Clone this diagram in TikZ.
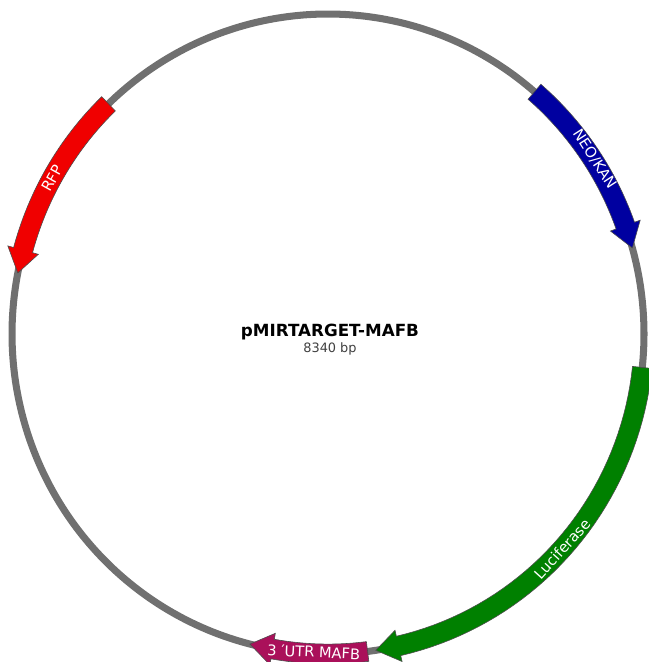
\documentclass[tikz,border=0pt]{standalone}
\usepackage{fontspec}
\setmainfont{DejaVu Sans}
\usetikzlibrary{positioning}

\definecolor{bbgray}{RGB}{112,112,112}
\definecolor{rfpred}{RGB}{240,0,0}
\definecolor{neoblue}{RGB}{0,0,160}
\definecolor{lucgreen}{RGB}{0,128,0}
\definecolor{utrpink}{RGB}{170,16,90}

% arrow on the ring: #1 style, #2 tail angle, #3 tip angle
\newcommand{\ringarrow}[3]{%
  \pgfmathsetmacro\hbase{(#3)-4.2*sign((#3)-(#2))}%
  \filldraw[feat,#1] plot[domain=#2:\hbase,samples=40] (\x:1.031)
    -- (\hbase:1.05) -- (#3:1) -- (\hbase:0.95)
    -- plot[domain=\hbase:#2,samples=40] (\x:0.969) -- cycle;}

\begin{document}
\begin{tikzpicture}[
  x=9.48cm,y=9.6cm,
  backbone/.style={draw=bbgray,line width=6pt},
  feat/.style={draw=black!70,line width=0.5pt},
  lbl/.style={text=white,inner sep=0pt,font=\fontsize{12.5}{15}\selectfont},
  title/.style={inner sep=0pt,anchor=base,font=\fontsize{14.3}{17}\selectfont\bfseries},
  size/.style={inner sep=0pt,text=black!75,font=\fontsize{11}{13}\selectfont}
]
\useasboundingbox (-1.038,-1.025) rectangle (1.01266,1.04375);

% backbone
\draw[backbone] plot[domain=0:360,samples=200,smooth] (\x:1) -- cycle;

% features
\ringarrow{fill=rfpred}{134}{169}
\ringarrow{fill=neoblue}{49.2}{15.6}
\ringarrow{fill=lucgreen}{-6}{-81.3}
\ringarrow{fill=utrpink}{-82.8}{-104.3}

\node[lbl,rotate=60.9] (rfp) at (150.9:1) {RFP};
\node[lbl,rotate=-57.1] (neo) at (32.9:1.005) {NEO/KAN};
\node[lbl,rotate=47.8] (luc) at (-42.2:1) {Luciferase};
\node[lbl,rotate=-2.6] (utr) at (-92.6:0.995) {3 ′UTR MAFB};

\node[title] (pname) at (0.0063,-0.00625) {pMIRTARGET-MAFB};
\node[size,below=0.75mm of pname] (plen) {8340 bp};
\end{tikzpicture}
\end{document}
